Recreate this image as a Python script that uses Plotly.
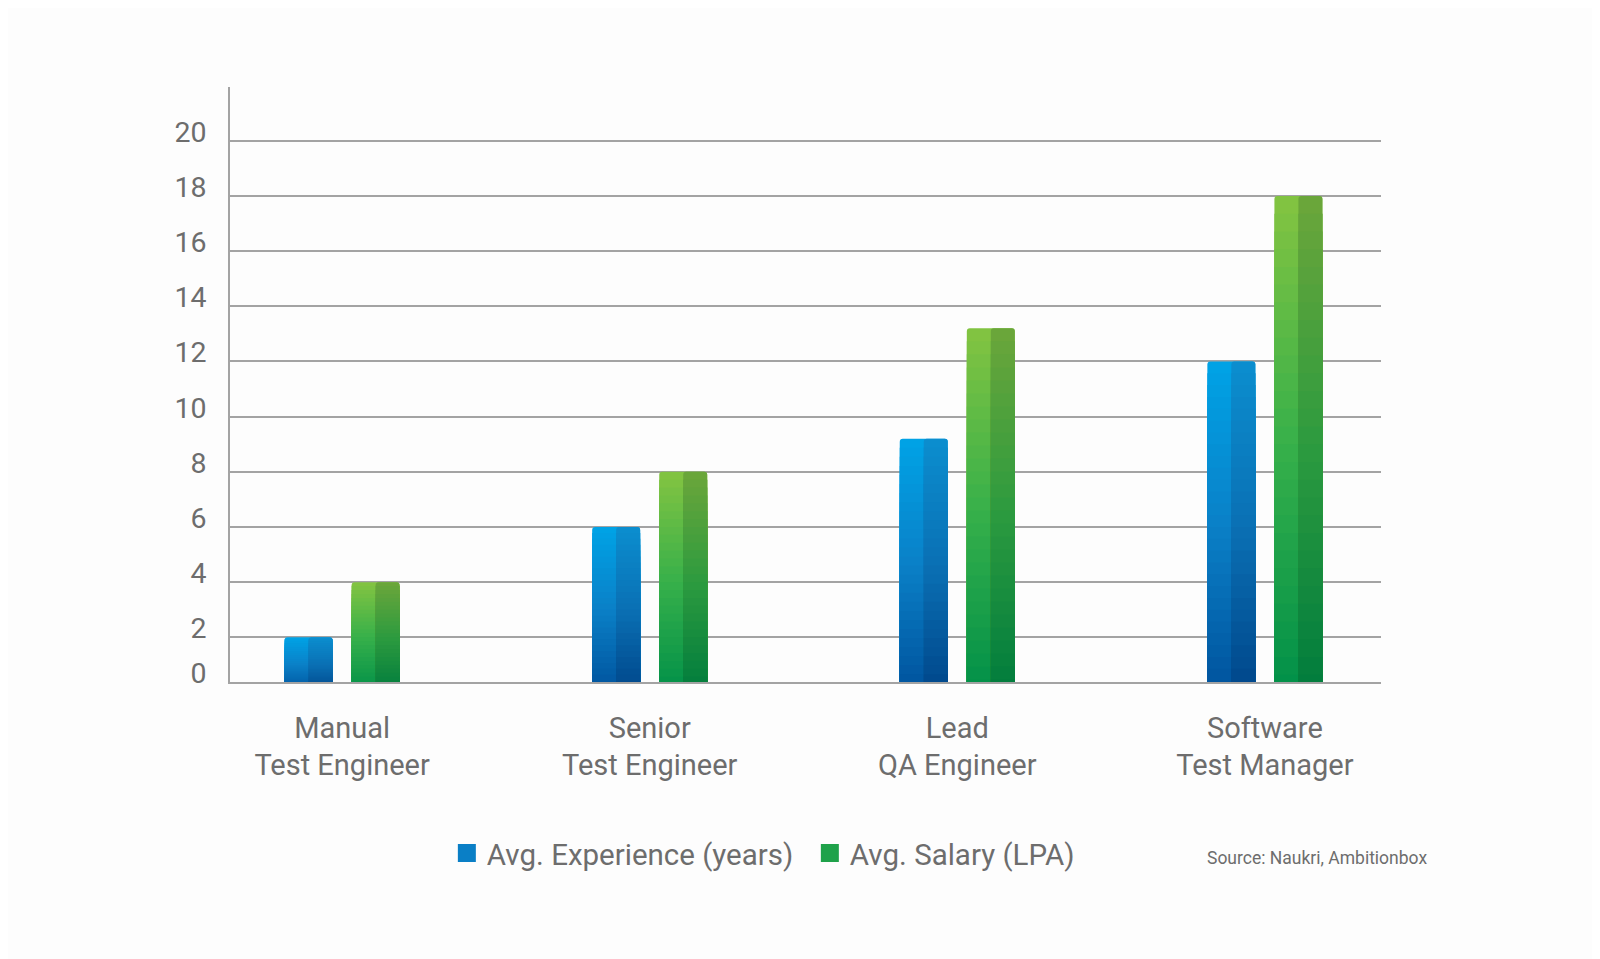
import plotly.graph_objects as go

# ---------------- data ----------------
CATEGORIES = ["Manual<br>Test Engineer", "Senior<br>Test Engineer", "Lead<br>QA Engineer", "Software<br>Test Manager"]
EXPERIENCE = [2, 6, 9.2, 12]      # Avg. Experience (years)
SALARY = [4, 8, 13.2, 18]         # Avg. Salary (LPA)
SERIES_NAMES = ["Avg. Experience (years)", "Avg. Salary (LPA)"]
Y_TICK_LABELS = ["0", "2", "4", "6", "8", "10", "12", "14", "16", "18", "20"]
SOURCE_TEXT = "Source: Naukri, Ambitionbox"

# ---------------- style ----------------
FONT = "Roboto"
TEXT_COLOR = "#6d6d6d"
GRID_COLOR = "#a3a3a3"
BG = "#fdfdfd"
Y_MIN, Y_MAX = 0.38, 21.95
N_SLICES = 28

# gradient stops (bottom -> mid -> top) for left and right halves of each bar
GRADIENTS = {
    0: {"left": ["#00529c", "#0a80c7", "#00a3e6"], "right": ["#00468a", "#0a70b4", "#0b8ecf"]},
    1: {"left": ["#009049", "#37b04a", "#84c441"], "right": ["#007c3d", "#2d9b3f", "#6ca63a"]},
}
LEGEND_COLORS = ["#0a7fc6", "#1fa24a"]

BAR_W = 0.156          # full bar width (category units)
HALF = BAR_W / 2
GAP = 0.062            # gap between the two bars of a group


def hex_to_rgb(h):
    h = h.lstrip("#")
    return tuple(int(h[i:i + 2], 16) for i in (0, 2, 4))


def interp(stops, t):
    if t <= 0.5:
        a, b, u = stops[0], stops[1], t / 0.5
    else:
        a, b, u = stops[1], stops[2], (t - 0.5) / 0.5
    ca, cb = hex_to_rgb(a), hex_to_rgb(b)
    c = [round(ca[i] + (cb[i] - ca[i]) * u) for i in range(3)]
    return "rgb({},{},{})".format(*c)


fig = go.Figure()

series = [EXPERIENCE, SALARY]
for s_idx, values in enumerate(series):
    group_left = -(BAR_W + GAP / 2) if s_idx == 0 else GAP / 2
    layers = [("left", group_left, BAR_W), ("right", group_left + HALF, HALF)]
    for half, offset, width in layers:
        # overlapping bars from the tallest (top colour) to the shortest (bottom colour)
        for k in range(N_SLICES):
            frac = (N_SLICES - k) / N_SLICES
            t = (N_SLICES - k - 0.5) / N_SLICES
            col = interp(GRADIENTS[s_idx][half], t)
            fig.add_trace(go.Bar(
                x=CATEGORIES,
                y=[v * frac for v in values],
                offset=offset,
                width=width,
                marker=dict(color=col, line=dict(width=0),
                            cornerradius=3 if k == 0 else 0),
                showlegend=False,
                hoverinfo="skip",
            ))

# legend entries
for name, col in zip(SERIES_NAMES, LEGEND_COLORS):
    fig.add_trace(go.Scatter(
        x=[None], y=[None], mode="markers", name=name,
        marker=dict(symbol="square", size=16, color=col, line=dict(color=col, width=2)),
    ))

y_tickvals = [Y_MIN] + [int(lbl) for lbl in Y_TICK_LABELS[1:]]

fig.update_layout(
    width=1600, height=959,
    margin=dict(l=222, r=227, t=79, b=285),
    paper_bgcolor=BG, plot_bgcolor=BG,
    barmode="overlay",
    font=dict(family=FONT, color=TEXT_COLOR),
    showlegend=True,
    legend=dict(
        orientation="h", x=0.1884, xanchor="left", y=-0.288, yanchor="middle",
        font=dict(size=29.5, color=TEXT_COLOR, family=FONT),
        bgcolor="rgba(0,0,0,0)", itemsizing="trace", entrywidth=318,
    ),
    xaxis=dict(
        type="category", range=[-0.3644, 3.3775],
        showgrid=False, zeroline=False,
        showline=True, linecolor=GRID_COLOR, linewidth=1.5,
        ticks="", tickfont=dict(size=29, color=TEXT_COLOR, family=FONT),
        ticklabelstandoff=19,
    ),
    yaxis=dict(
        range=[Y_MIN, Y_MAX], tickvals=y_tickvals, ticktext=Y_TICK_LABELS,
        showgrid=True, gridcolor=GRID_COLOR, gridwidth=1.5,
        zeroline=False, showline=True, linecolor=GRID_COLOR, linewidth=1.5,
        ticks="", tickfont=dict(size=28.5, color=TEXT_COLOR, family=FONT),
        ticklabelstandoff=16, ticklabelshift=-9,
    ),
    annotations=[dict(
        text=SOURCE_TEXT, xref="paper", yref="paper",
        x=0.8475, y=-0.295, xanchor="left", yanchor="middle",
        showarrow=False, font=dict(size=17.5, color=TEXT_COLOR, family=FONT),
    )],
)

fig.write_html("out.html")
